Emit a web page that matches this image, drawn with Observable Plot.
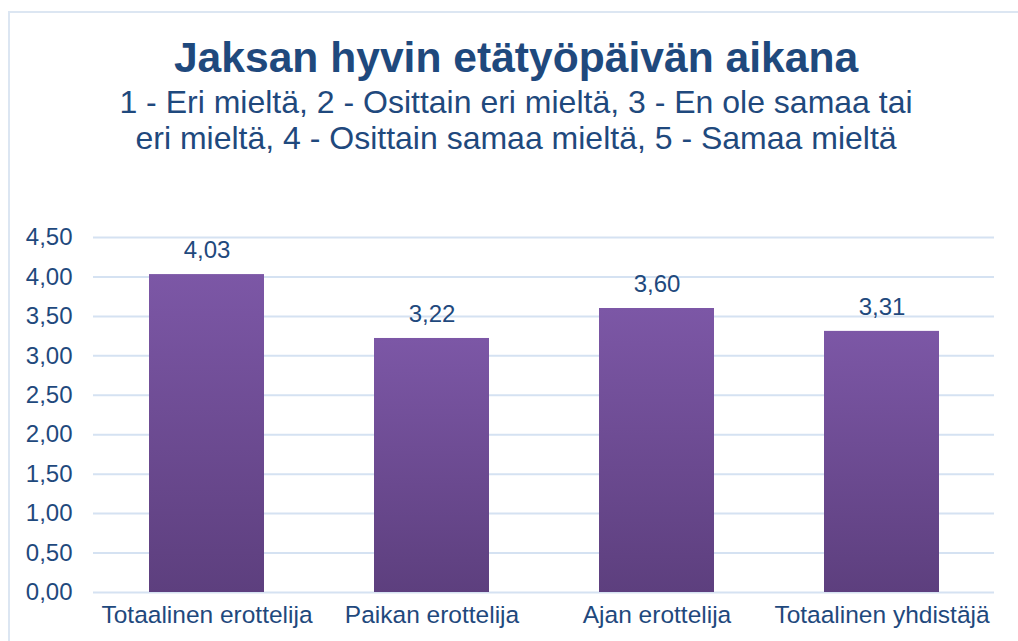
<!DOCTYPE html>
<html><head><meta charset="utf-8">
<script src="https://cdn.jsdelivr.net/npm/d3@7"></script>
<script src="https://cdn.jsdelivr.net/npm/@observablehq/plot@0.6"></script>
<style>
html,body{margin:0;padding:0;background:#fff;width:1018px;height:641px;overflow:hidden;font-family:"Liberation Sans",Arial,sans-serif;}
#frame{position:absolute;left:8px;top:11px;width:1100px;height:700px;border:2px solid #dce6f2;box-sizing:border-box;}
#title{position:absolute;left:0;width:1032px;top:33px;text-align:center;color:#1f497d;font-weight:bold;font-size:42.6px;line-height:48px;}
#sub{position:absolute;left:0;width:1032px;top:84px;text-align:center;color:#1f497d;font-size:32px;line-height:36px;}
#chart{position:absolute;left:0;top:180px;}
</style></head>
<body>
<div id="frame"></div>
<div id="title">Jaksan hyvin etätyöpäivän aikana</div>
<div id="sub">1 - Eri mieltä, 2 - Osittain eri mieltä, 3 - En ole samaa tai<br>eri mieltä, 4 - Osittain samaa mieltä, 5 - Samaa mieltä</div>
<div id="chart"></div>
<script>
const categories = ["Totaalinen erottelija", "Paikan erottelija", "Ajan erottelija", "Totaalinen yhdistäjä"];
const values = [4.03, 3.22, 3.60, 3.31];
const yTicks = [0, 0.5, 1, 1.5, 2, 2.5, 3, 3.5, 4, 4.5];

const data = categories.map((c, i) => ({category: c, value: values[i]}));
const fmt = v => d3.format(".2f")(v).replace(".", ",");

const defs = () => {
  const ns = "http://www.w3.org/2000/svg";
  const d = document.createElementNS(ns, "defs");
  d.innerHTML = `<linearGradient id="barGrad" x1="0" y1="0" x2="0" y2="1">
      <stop offset="0" stop-color="#7c57a6"/>
      <stop offset="1" stop-color="#5d3f7e"/>
    </linearGradient>
    <filter id="shadow" x="-10%" y="-10%" width="130%" height="130%">
      <feDropShadow dx="2" dy="1" stdDeviation="2" flood-color="#000" flood-opacity="0.25"/>
    </filter>`;
  return d;
};

const chart = Plot.plot({
  width: 1018,
  height: 461,
  marginLeft: 93,
  marginRight: 24,
  marginTop: 57,
  marginBottom: 49,
  style: {fontFamily: "'Liberation Sans', Arial, sans-serif", fontSize: "24px", color: "#1f497d", background: "transparent"},
  x: {domain: categories, paddingInner: 0.49, paddingOuter: 0.245, label: null},
  y: {domain: [0, 4.5], label: null},
  marks: [
    defs,
    Plot.gridY(yTicks, {stroke: "#d5e2f2", strokeOpacity: 1, strokeWidth: 2}),
    Plot.barY(data, {x: "category", y: "value", fill: "url(#barGrad)", style: {filter: "url(#shadow)"}}),
    Plot.text(data, {x: "category", y: "value", text: d => fmt(d.value), dy: -24, fill: "#1f497d", fontSize: 24}),
    Plot.axisY(yTicks, {tickSize: 0, tickPadding: 21, tickFormat: fmt, fontSize: 24, fill: "#1f497d", label: null}),
    Plot.axisX({tickSize: 0, tickPadding: 13, fontSize: 24.5, fill: "#1f497d", label: null})
  ]
});
document.getElementById("chart").appendChild(chart);
</script>
</body></html>
